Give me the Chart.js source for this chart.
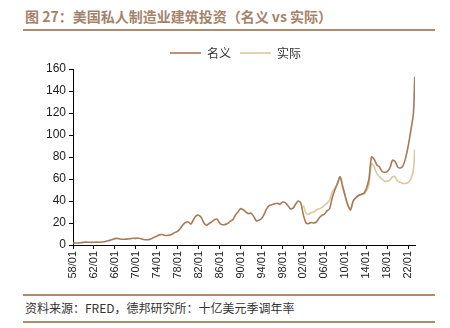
<!DOCTYPE html>
<html>
<head>
<meta charset="utf-8">
<script src="https://cdn.jsdelivr.net/npm/chart.js@4.4.1/dist/chart.umd.min.js"></script>
<style>
  body { margin: 0; width: 450px; height: 328px; background: #fff; position: relative; overflow: hidden; }
  .title { position: absolute; left: 25px; top: 6px; font: bold 14px "Noto Sans CJK SC", sans-serif; color: #a5836a; }
  .rule { position: absolute; left: 23px; width: 412px; height: 2px; background: #b08a6e; }
  .note { position: absolute; left: 25px; top: 299px; font: 12px "Noto Sans CJK SC", sans-serif; color: #333; }
  #box { position: absolute; left: 0; top: 38px; width: 450px; height: 252px; }
</style>
</head>
<body>
<div class="title">图 27：美国私人制造业建筑投资（名义 vs 实际）</div>
<div class="rule" style="top:29px"></div>
<div id="box"><canvas id="myChart"></canvas></div>
<div class="rule" style="top:294px"></div>
<div class="note">资料来源：FRED，德邦研究所：十亿美元季调年率</div>
<div class="rule" style="top:321px"></div>
<script>
// half-year readings, billions USD SAAR
const nominalYears = [
  1958, 1958.5, 1959, 1959.5, 1960, 1960.5, 1961, 1961.5, 1962, 1962.5,
  1963, 1963.5, 1964, 1964.5, 1965, 1965.5, 1966, 1966.5, 1967, 1967.5,
  1968, 1968.5, 1969, 1969.5, 1970, 1970.5, 1971, 1971.5, 1972, 1972.5,
  1973, 1973.5, 1974, 1974.5, 1975, 1975.5, 1976, 1976.5, 1977, 1977.5,
  1978, 1978.5, 1979, 1979.5, 1980, 1980.5, 1981, 1981.5, 1982, 1982.5,
  1983, 1983.5, 1984, 1984.5, 1985, 1985.5, 1986, 1986.5, 1987, 1987.5,
  1988, 1988.5, 1989, 1989.5, 1990, 1990.5, 1991, 1991.5, 1992, 1992.5,
  1993, 1993.5, 1994, 1994.5, 1995, 1995.5, 1996, 1996.5, 1997, 1997.5,
  1998, 1998.5, 1999, 1999.5, 2000, 2000.5, 2001, 2001.5, 2002, 2002.5,
  2003, 2003.5, 2004, 2004.5, 2005, 2005.5, 2006, 2006.5, 2007, 2007.5,
  2008, 2008.5, 2009, 2009.5, 2010, 2010.5, 2011, 2011.5, 2012, 2012.5,
  2013, 2013.5, 2014, 2014.5, 2015, 2015.5, 2016, 2016.5, 2017, 2017.5,
  2018, 2018.5, 2019, 2019.5, 2020, 2020.5, 2021, 2021.5, 2022, 2022.5,
  2023, 2023.25
];
const nominal = [
  2.0, 1.8, 1.8, 2.1, 2.4, 2.6, 2.5, 2.4, 2.5, 2.6,
  2.5, 2.7, 3.0, 3.6, 4.2, 5.0, 5.8, 6.0, 5.4, 5.2,
  5.3, 5.5, 5.8, 6.1, 6.0, 6.2, 5.6, 5.0, 4.8, 4.9,
  5.8, 7.0, 8.0, 9.2, 9.5, 8.8, 8.6, 9.0, 10.0, 11.5,
  12.5, 15, 18.5, 20.5, 21, 19, 23, 26.5, 27, 25,
  20, 18, 19.5, 21, 23, 23.5, 20, 18.5, 18.5, 19.5,
  21.5, 23, 27, 30, 33, 32, 30, 28.5, 29, 26,
  22, 22.5, 24, 28, 33, 36, 36.5, 37.5, 38, 37,
  39, 38.5, 36, 33, 33.5, 37, 40, 38, 27, 20,
  19.5, 20.5, 20, 21, 24.5, 27, 28, 31, 33, 43,
  50, 56, 62, 53, 44, 36, 32, 40, 43, 45,
  46, 47, 51, 60, 80, 78, 73, 71, 67, 66,
  67, 70, 77, 76, 71, 70, 72, 79, 90, 104,
  120, 153
];
const realYears = [
  2002, 2002.5, 2003, 2003.5, 2004, 2004.5, 2005, 2005.5, 2006, 2006.5,
  2007, 2007.5, 2008, 2008.5, 2009, 2009.5, 2010, 2010.5, 2011, 2011.5,
  2012, 2012.5, 2013, 2013.5, 2014, 2014.5, 2015, 2015.5, 2016, 2016.5,
  2017, 2017.5, 2018, 2018.5, 2019, 2019.5, 2020, 2020.5, 2021, 2021.5,
  2022, 2022.5, 2023, 2023.25
];
const real = [
  36, 29, 28, 29.5, 30, 32, 33, 34, 36, 38,
  41, 48, 52, 56, 61, 53, 44, 36, 33, 40,
  43, 45, 46, 46, 49, 55, 74, 71, 65, 62,
  60, 58, 58, 59, 62, 62, 58, 57, 56, 56,
  57, 60, 68, 87
];
const tickYears = [1958, 1962, 1966, 1970, 1974, 1978, 1982, 1986, 1990, 1994, 1998, 2002, 2006, 2010, 2014, 2018, 2022];
const tickLabels = ["58/01", "62/01", "66/01", "70/01", "74/01", "78/01", "82/01", "86/01", "90/01", "94/01", "98/01", "02/01", "06/01", "10/01", "14/01", "18/01", "22/01"];

const toPoints = (xs, ys) => xs.map((x, i) => ({ x: x, y: ys[i] }));

// the reference legend sits right of the chart centre
const legendShift = {
  id: "legendShift",
  afterLayout(chart) {
    chart.legend.left += 28;
    chart.legend.right += 28;
  },
};

const ctx = document.getElementById("myChart").getContext("2d");
new Chart(ctx, {
  type: "line",
  plugins: [legendShift],
  data: {
    datasets: [
      {
        label: "名义",
        data: toPoints(nominalYears, nominal),
        borderColor: "#a87a5a",
        borderWidth: 1.6,
        pointRadius: 0,
        tension: 0.3,
      },
      {
        label: "实际",
        data: toPoints(realYears, real),
        borderColor: "#dcc89c",
        borderWidth: 1.6,
        pointRadius: 0,
        tension: 0.3,
      },
    ],
  },
  options: {
    responsive: true,
    maintainAspectRatio: false,
    animation: false,
    layout: { padding: { left: 0, right: 35, top: 0, bottom: 0 } },
    plugins: {
      tooltip: { enabled: false },
      legend: {
        labels: {
          usePointStyle: true,
          pointStyle: "line",
          pointStyleWidth: 31,
          boxHeight: 2,
          color: "#333",
          font: { family: "Noto Sans CJK SC", size: 12 },
          padding: 9,
        },
      },
    },
    scales: {
      x: {
        type: "linear",
        min: 1958,
        max: 2023.3,
        afterBuildTicks: (s) => { s.ticks = tickYears.map((v) => ({ value: v })); },
        afterFit: (s) => { s.height = 45; },
        grid: { display: true, drawOnChartArea: false, color: "#000", tickLength: 4 },
        border: { color: "#000", width: 1 },
        ticks: {
          autoSkip: false,
          minRotation: 90,
          maxRotation: 90,
          padding: 2,
          color: "#222",
          font: { family: "Liberation Sans", size: 11 },
          callback: (v) => tickLabels[tickYears.indexOf(v)],
        },
      },
      y: {
        min: 0,
        max: 160,
        afterFit: (s) => { s.width = 73; },
        grid: { display: true, drawOnChartArea: false, color: "#000", tickLength: 4 },
        border: { color: "#000", width: 1 },
        ticks: {
          stepSize: 20,
          padding: 3,
          color: "#222",
          font: { family: "Liberation Sans", size: 12 },
        },
      },
    },
  },
});
</script>
</body>
</html>
